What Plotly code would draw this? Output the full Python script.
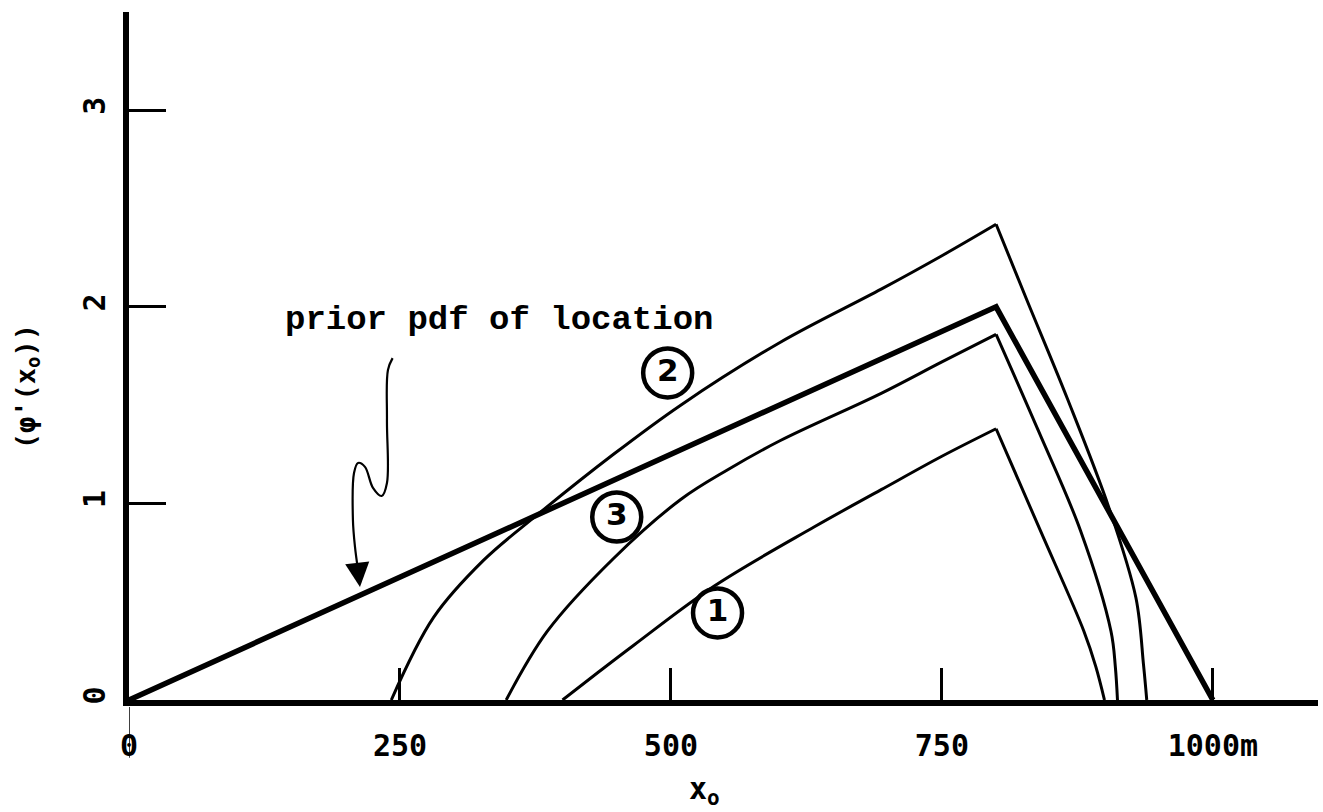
import plotly.graph_objects as go

# ---------------- data ----------------
x_tick_vals = [0, 250, 500, 750, 1000]
x_tick_text = ["0", "250", "500", "750", "1000m"]
y_tick_vals = [0, 1, 2, 3]
y_tick_text = ["0", "1", "2", "3"]

prior_x = [0, 800, 1000]
prior_y = [0, 2.0, 0]

c1_x = [400, 435, 466, 540, 632, 694, 750, 800, 841, 881, 892, 900]
c1_y = [0, 0.15, 0.28, 0.58, 0.88, 1.07, 1.24, 1.38, 0.86, 0.35, 0.17, 0]

c2_x = [242, 281, 327, 374, 447, 509, 601, 694, 750, 800, 828, 866, 904, 929, 936, 939]
c2_y = [0, 0.42, 0.71, 0.93, 1.25, 1.50, 1.82, 2.09, 2.26, 2.42, 2.04, 1.53, 0.98, 0.52, 0.18, 0]

c3_x = [348, 386, 447, 509, 552, 601, 694, 750, 800, 839, 878, 906, 910, 912]
c3_y = [0, 0.35, 0.72, 1.02, 1.17, 1.32, 1.56, 1.72, 1.86, 1.37, 0.86, 0.35, 0.17, 0]

label_text = ["1", "2", "3"]
label_x = [543, 497, 450]
label_y = [0.443, 1.664, 0.931]

prior_note = "prior pdf of location"
note_x, note_y = 341, 1.934

# hand-drawn wavy pointer from the note to the prior line
wiggle_x = [243.2, 238.9, 238.0, 238.0, 233.1, 225.1, 217.7, 211.3, 207.6, 206.6, 208.5, 211.3]
wiggle_y = [1.739, 1.679, 1.425, 1.104, 1.038, 1.079, 1.186, 1.206, 1.155, 0.916, 0.779, 0.662]
arrow_tip = (213.1, 0.575)

# ---------------- figure ----------------
fig = go.Figure()

def add_curve(xs, ys, width):
    k = ys.index(max(ys))
    for xx, yy in ((xs[:k + 1], ys[:k + 1]), (xs[k:], ys[k:])):
        fig.add_trace(go.Scatter(
            x=xx, y=yy, mode="lines",
            line=dict(color="black", width=width, shape="spline", smoothing=1.0),
            hoverinfo="skip", showlegend=False))

fig.add_trace(go.Scatter(x=prior_x, y=prior_y, mode="lines",
                         line=dict(color="black", width=5.5),
                         hoverinfo="skip", showlegend=False))
add_curve(c1_x, c1_y, 3)
add_curve(c2_x, c2_y, 3)
add_curve(c3_x, c3_y, 3)

# wavy pointer
fig.add_trace(go.Scatter(x=wiggle_x, y=wiggle_y, mode="lines",
                         line=dict(color="black", width=2.2, shape="spline", smoothing=1.0),
                         hoverinfo="skip", showlegend=False))

# circled curve labels
fig.add_trace(go.Scatter(
    x=label_x, y=label_y, mode="markers+text", text=label_text,
    textposition="middle center",
    textfont=dict(family="DejaVu Sans", size=31, color="black", weight="bold"),
    marker=dict(symbol="circle-open", size=49, color="black", line=dict(width=4.5, color="black")),
    hoverinfo="skip", showlegend=False))

font_mono = "DejaVu Sans Mono"

fig.update_layout(
    width=1323, height=812,
    margin=dict(l=129, r=5, t=12, b=112),
    plot_bgcolor="white", paper_bgcolor="white",
    showlegend=False,
    xaxis=dict(range=[0, 1097], showline=True, linewidth=6, linecolor="black",
               ticks="inside", ticklen=32, tickwidth=3, tickcolor="black",
               tickvals=x_tick_vals, ticktext=x_tick_text,
               tickfont=dict(family=font_mono, size=30, color="black", weight="bold"),
               ticklabelstandoff=14,
               showgrid=False, zeroline=False),
    yaxis=dict(range=[0, 3.50], showline=True, linewidth=6, linecolor="black",
               ticks="inside", ticklen=37, tickwidth=3, tickcolor="black",
               tickvals=y_tick_vals, ticktext=y_tick_text, tickangle=-90,
               tickfont=dict(family=font_mono, size=30, color="black", weight="bold"),
               ticklabelstandoff=6,
               showgrid=False, zeroline=False),
)

fig.add_annotation(x=note_x, y=note_y, text=prior_note, showarrow=False,
                   xanchor="center", yanchor="middle",
                   font=dict(family="Liberation Mono", size=34, color="black", weight="bold"))
fig.add_annotation(x=arrow_tip[0], y=arrow_tip[1], ax=wiggle_x[-1], ay=wiggle_y[-1],
                   xref="x", yref="y", axref="x", ayref="y", text="",
                   showarrow=True, arrowhead=2, arrowsize=2.2, arrowwidth=2.2, arrowcolor="black")
fig.add_annotation(xref="paper", yref="paper", x=0.4844, y=-0.131,
                   xanchor="center", yanchor="middle",
                   text="x<sub>o</sub>", showarrow=False,
                   font=dict(family=font_mono, size=30, color="black", weight="bold"))
fig.add_annotation(xref="paper", yref="paper", x=-0.0858, y=0.456,
                   xanchor="center", yanchor="middle",
                   text="(φ'(x<sub>o</sub>))", showarrow=False, textangle=-90,
                   font=dict(family=font_mono, size=27, color="black", weight="bold"))

# thin stroke below the origin
fig.add_shape(type="line", xref="x", yref="paper", x0=0, x1=0, y0=-0.01, y1=-0.084,
              line=dict(color="black", width=1.5))

fig.write_html("out.html", config={"displayModeBar": False},
               post_script="document.body.style.margin='0';")
